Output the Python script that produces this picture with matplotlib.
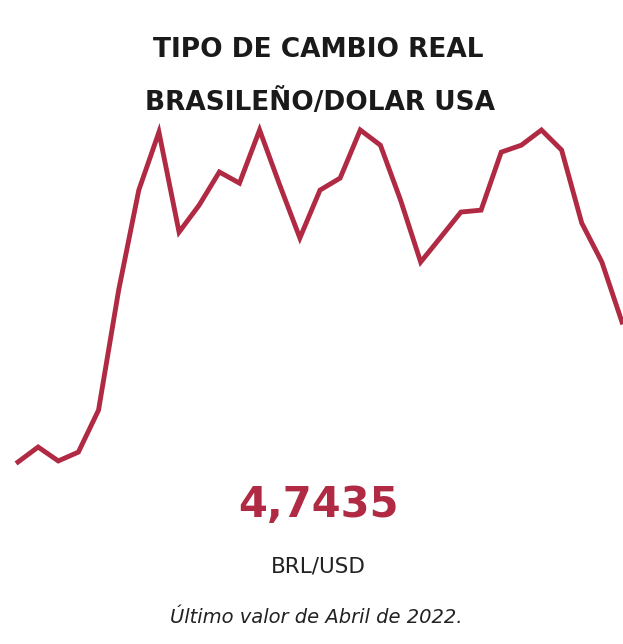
import matplotlib.pyplot as plt
import numpy as np

# monthly BRL/USD, Oct 2019 .. Apr 2022
months = np.arange(31)
brl_usd = np.array([
    4.080, 4.151, 4.085, 4.127, 4.326, 4.895, 5.369, 5.644,
    5.170, 5.298, 5.455, 5.402, 5.654, 5.393, 5.142, 5.369,
    5.426, 5.654, 5.582, 5.322, 5.028, 5.146, 5.265, 5.274,
    5.549, 5.582, 5.654, 5.559, 5.213, 5.028, 4.7435,
])

title_1 = "TIPO DE CAMBIO REAL"
title_2 = "BRASILEÑO/DOLAR USA"
last_value = "4,7435"
unit = "BRL/USD"
note = "Último valor de Abril de 2022."

red = "#b02a44"
W, H = 623, 644

fig = plt.figure(figsize=(W / 100, H / 100), dpi=100)
fig.patch.set_facecolor("white")

# axes box in pixel terms: x 18..622, y 130..462 (from top)
ax = fig.add_axes([18 / W, (H - 462) / H, 604 / W, (462 - 130) / H])
ax.plot(months, brl_usd, color=red, lw=3.5, solid_joinstyle="miter", clip_on=False)
ax.set_xlim(0, 30)
ax.set_ylim(brl_usd.min(), brl_usd.max())
ax.axis("off")

fig.text(318 / W, 1 - 57 / H, title_1, ha="center", va="baseline",
         fontsize=19, fontweight="bold", color="#1a1a1a")
fig.text(320 / W, 1 - 110 / H, title_2, ha="center", va="baseline",
         fontsize=19, fontweight="bold", color="#1a1a1a")
fig.text(318 / W, 1 - 517 / H, last_value, ha="center", va="baseline",
         fontsize=30, fontweight="bold", color=red)
fig.text(318 / W, 1 - 573 / H, unit, ha="center", va="baseline",
         fontsize=15.5, color="#222222")
fig.text(316 / W, 1 - 623 / H, note, ha="center", va="baseline",
         fontsize=14, style="italic", color="#222222")

plt.savefig("out.png", dpi=100)
